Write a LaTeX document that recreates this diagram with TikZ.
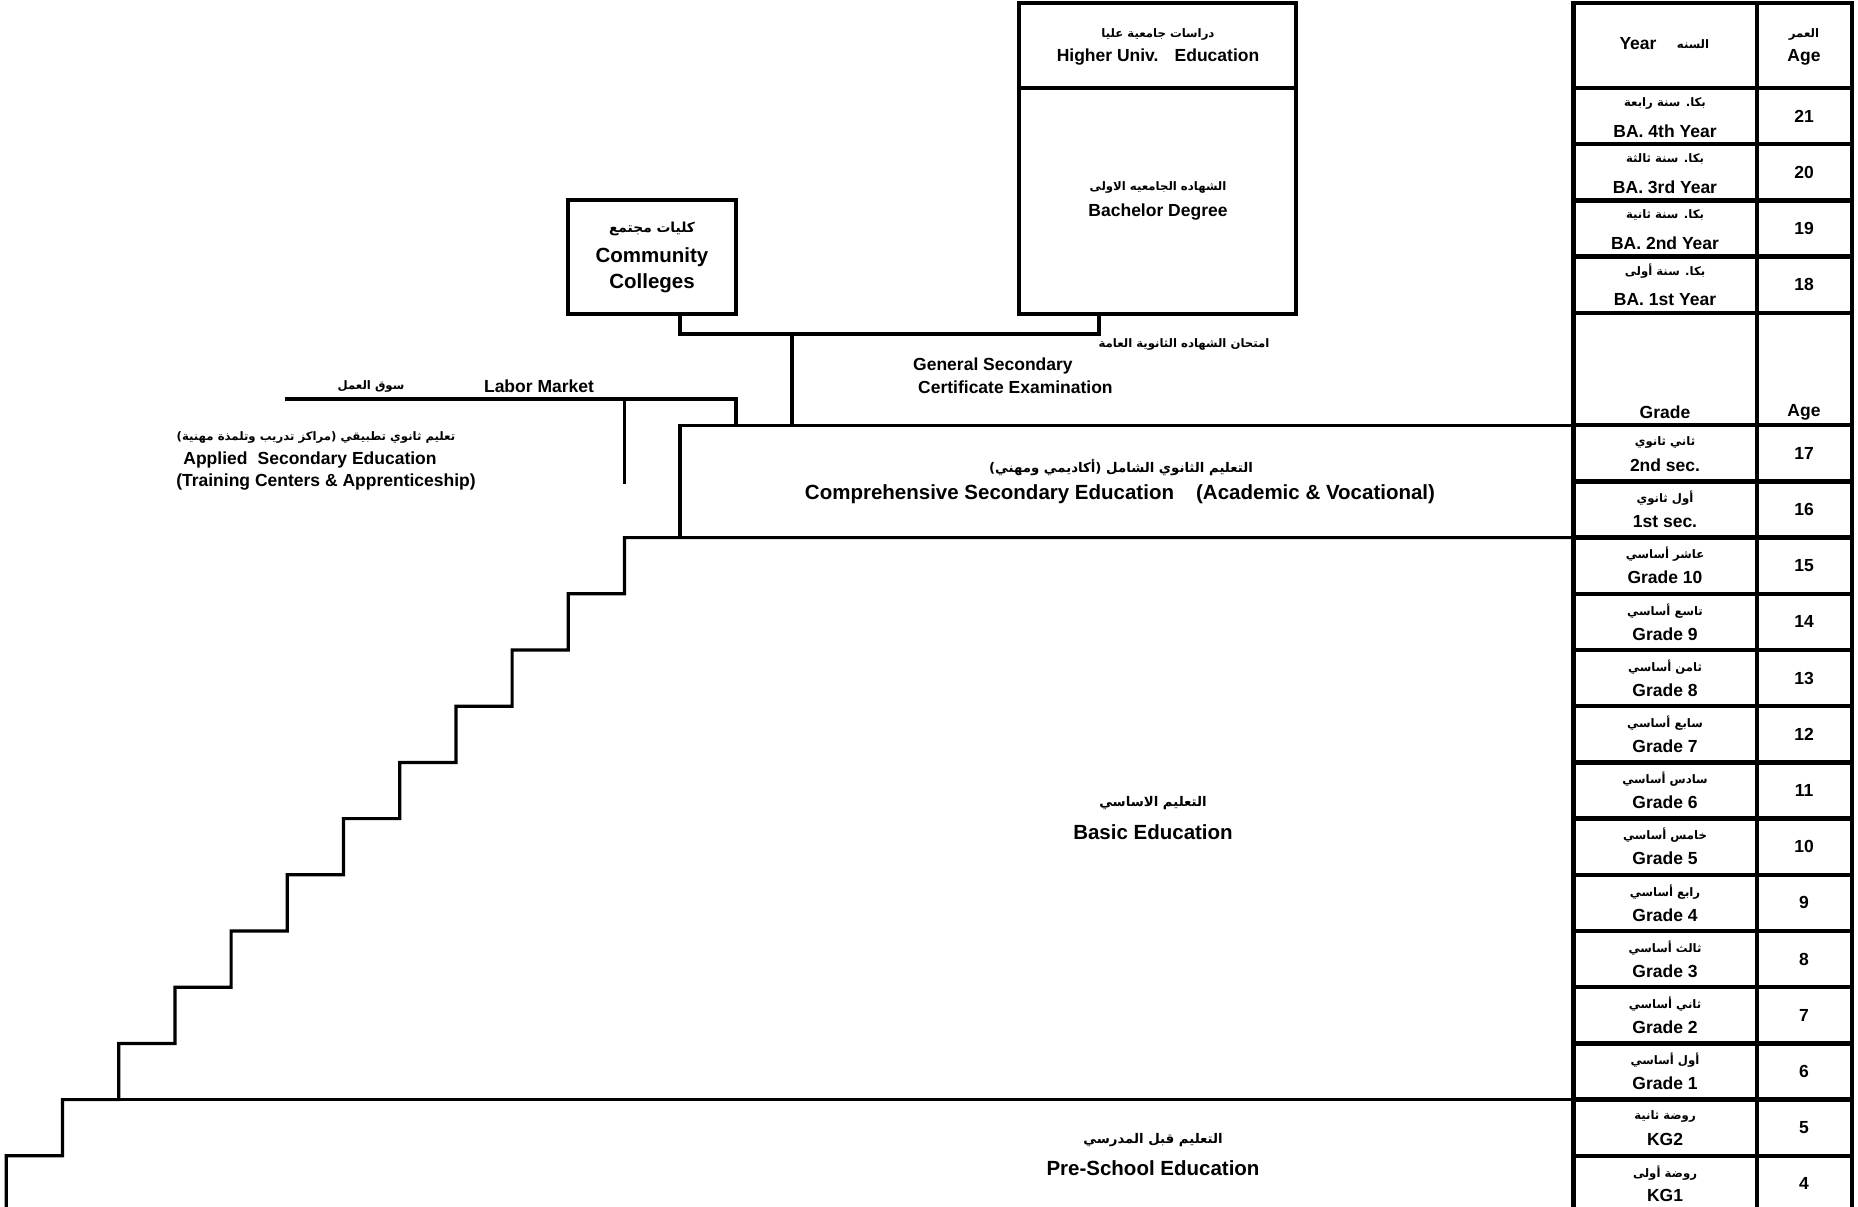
\documentclass[tikz,border=0pt]{standalone}
\usepackage{fontspec}
\setmainfont{Liberation Sans}
\newfontfamily\arabicfont[Script=Arabic]{DejaVu Sans}
\TeXXeTstate=1
\newcommand{\artxt}[1]{{\arabicfont\bfseries\beginR #1\endR}}
\begin{document}
\begin{tikzpicture}[x=1pt,y=-1pt,
  tline/.style={line width=4.5pt,line cap=rect},
  dline/.style={line width=3.2pt,line cap=rect},
  boxline/.style={line width=4pt},
  latS/.style={font=\fontsize{17.5}{20}\selectfont\bfseries,inner sep=0pt},
  latL/.style={font=\fontsize{20.5}{24}\selectfont\bfseries,inner sep=0pt},
  arS/.style={font=\fontsize{11.7}{14}\selectfont,inner sep=0pt},
  arL/.style={font=\fontsize{13.3}{16}\selectfont,inner sep=0pt},
  arC/.style={font=\fontsize{13.8}{16}\selectfont,inner sep=0pt}]
\useasboundingbox (0,0) rectangle (1858,1207);
\clip (0,0) rectangle (1858,1207);

% ---------- table ----------
\foreach \y in {3,88,144.2,200.4,256.6,312.8,425.2,481.4,537.6,593.8,650,706.2,762.4,818.6,874.8,931,987.2,1043.4,1099.6,1155.8}
  \draw[tline] (1573.6,\y) -- (1852,\y);
\foreach \x in {1573.6,1757,1852}
  \draw[tline] (\x,3) -- (\x,1215);

\node[latS] (hYear) at (1638,44) {Year};
\node[arS] (hSana) at (1693,44) {\artxt{السنه}};
\node[arS] (hUmr) at (1804,34) {\artxt{العمر}};
\node[latS] (hAge) at (1804,57) {Age};
\node[latS] (hGrade) at (1665,412) {Grade};
\node[latS] (hAge2) at (1804,412) {Age};

\foreach \t/\a/\l/\n [count=\i] in {
  88/{بكا. سنة رابعة}/{BA. 4th Year}/21,
  144.2/{بكا. سنة ثالثة}/{BA. 3rd Year}/20,
  200.4/{بكا. سنة ثانية}/{BA. 2nd Year}/19,
  256.6/{بكا. سنة أولى}/{BA. 1st Year}/18}
{
  \node[arS] (ba\i a) at (1665,\t+15) {\artxt{\a}};
  \node[latS] (ba\i l) at (1665,\t+43) {\l};
  \node[latS] (ba\i n) at (1804,\t+28) {\n};
}

\foreach \a/\l/\n [count=\i from 0] in {
  {ثاني ثانوي}/{2nd sec.}/17,
  {أول  ثانوي}/{1st sec.}/16,
  {عاشر أساسي}/{Grade 10}/15,
  {تاسع أساسي}/{Grade 9}/14,
  {ثامن أساسي}/{Grade 8}/13,
  {سابع أساسي}/{Grade 7}/12,
  {سادس أساسي}/{Grade 6}/11,
  {خامس أساسي}/{Grade 5}/10,
  {رابع أساسي}/{Grade 4}/9,
  {ثالث أساسي}/{Grade 3}/8,
  {ثاني أساسي}/{Grade 2}/7,
  {أول أساسي}/{Grade 1}/6,
  {روضة ثانية}/{KG2}/5,
  {روضة أولى}/{KG1}/4}
{
  \node[arS] (g\i a) at (1665,{425.2+56.2*\i+17}) {\artxt{\a}};
  \node[latS] (g\i l) at (1665,{425.2+56.2*\i+40}) {\l};
  \node[latS] (g\i n) at (1804,{425.2+56.2*\i+28}) {\n};
}

% ---------- boxes ----------
\coordinate (bachNW) at (1019,3);
\coordinate (bachSE) at (1296,314);
\draw[boxline] (bachNW) rectangle (bachSE);
\draw[boxline] (1019,88) -- (1296,88);
\node[arS] (higherA) at (1158,34) {\artxt{دراسات جامعية عليا}};
\node[latS] (higherL) at (1158,57) {Higher Univ.\hspace{0.55em} Education};
\node[arS] (bachA) at (1158,187) {\artxt{الشهاده الجامعيه الاولى}};
\node[latS] (bachL) at (1158,212) {Bachelor Degree};

\coordinate (ccNW) at (568,200);
\coordinate (ccSE) at (736,314);
\draw[boxline] (ccNW) rectangle (ccSE);
\node[arC] (ccA) at (652,229) {\artxt{كليات مجتمع}};
\node[latL] (ccL1) at (652,257) {Community};
\node[latL] (ccL2) at (652,283) {Colleges};

% ---------- connectors ----------
\coordinate (bStub) at (1099,314);
\coordinate (jR) at (1099,334);
\coordinate (cStub) at (680,314);
\coordinate (jL) at (680,334);
\coordinate (jM) at (792,334);
\coordinate (jMb) at (792,425.2);
\draw[dline] (bStub) -- (jR) -- (jL) -- (cStub);
\draw[dline] (jM) -- (jMb);

\coordinate (lmL) at (287,399);
\coordinate (lmR) at (736,399);
\coordinate (lmRb) at (736,425.2);
\coordinate (lmV) at (624.5,399);
\coordinate (lmVb) at (624.5,482);
\draw[dline] (lmL) -- (lmR) -- (lmRb);
\draw[dline] (lmV) -- (lmVb);

\coordinate (secTR) at (1573.6,425.2);
\coordinate (secTL) at (680,425.2);
\coordinate (secBL) at (680,537.6);
\draw[dline] (secTR) -- (secTL) -- (secBL);

\coordinate (basTR) at (1573.6,537.6);
\coordinate (basTL) at (624.5,537.6);
\draw[dline] (basTR) -- (basTL)
  \foreach \k in {0,...,10} { -- ({624.5-56.2*\k},{537.6+56.2*(\k+1)}) -- ({624.5-56.2*(\k+1)},{537.6+56.2*(\k+1)}) }
  -- (6.3,1215);
\coordinate (preTR) at (1573.6,1099.6);
\coordinate (preTL) at (62.5,1099.6);
\draw[dline] (preTR) -- (preTL);

% ---------- labels ----------
\node[arS] (examA) at (1184,344) {\artxt{امتحان الشهاده الثانوية العامة}};
\node[latS,anchor=west] (examL1) at (913,366) {General Secondary};
\node[latS,anchor=west] (examL2) at (918,387) {Certificate Examination};

\node[arS] (lmA) at (371,386) {\artxt{سوق العمل}};
\node[latS] (lmLat) at (539,386) {Labor Market};

\node[arS] (apA) at (316,437) {\artxt{تعليم ثانوي تطبيقي (مراكز تدريب وتلمذة مهنية)}};
\node[latS] (apL1) at (310,460) {Applied\hspace{0.3em} Secondary Education};
\node[latS] (apL2) at (326,482) {(Training Centers \& Apprenticeship)};

\node[arL] (csA) at (1121,468) {\artxt{التعليم الثانوي الشامل (أكاديمي ومهني)}};
\node[latL] (csL) at (1120,494) {Comprehensive Secondary Education\hspace{0.8em} (Academic \& Vocational)};

\node[arL] (beA) at (1153,803) {\artxt{التعليم الاساسي}};
\node[latL] (beL) at (1153,832) {Basic Education};

\node[arL] (psA) at (1153,1140) {\artxt{التعليم قبل المدرسي}};
\node[latL] (psL) at (1153,1168) {Pre-School Education};
\end{tikzpicture}
\end{document}
